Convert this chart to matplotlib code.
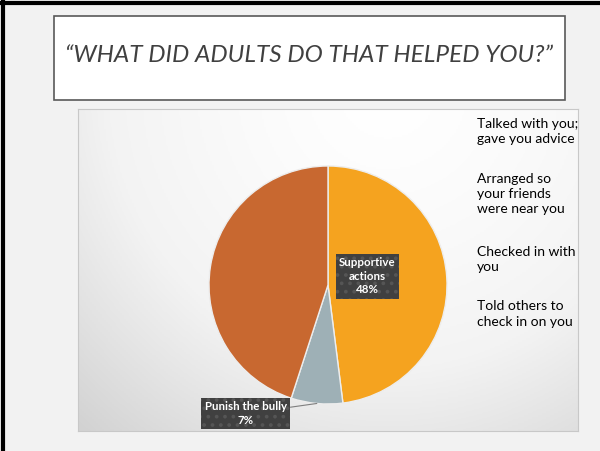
import numpy as np
import matplotlib
matplotlib.use("Agg")
import matplotlib.pyplot as plt
from matplotlib.lines import Line2D
from matplotlib.patches import Rectangle

# Data
TITLE = "\u201cWHAT DID ADULTS DO THAT HELPED YOU?\u201d"
SLICE_NAMES = ["Supportive actions", "Punish the bully", "Other"]
SLICE_SHARES = [48, 7, 45]
SLICE_COLORS = ["#F5A31F", "#9EB0B6", "#C86830"]
LABELED = [True, True, False]
LEGEND_LINES = [
    "Talked with you;\ngave you advice",
    "Arranged so\nyour friends\nwere near you",
    "Checked in with\nyou",
    "Told others to\ncheck in on you",
]

W, H = 600, 451
plt.rcParams["font.family"] = ["Lato", "DejaVu Sans"]

fig = plt.figure(figsize=(W / 100, H / 100), dpi=100)
fig.patch.set_facecolor("#F2F2F2")


def px_rect(x0, y0, x1, y1):
    # pixel box (top-left origin) -> figure fraction rect
    return [x0 / W, 1 - y1 / H, (x1 - x0) / W, (y1 - y0) / H]


# slide border on left and top
fig.add_artist(Line2D([2.5 / W, 2.5 / W], [0, 1], color="black", lw=3))
fig.add_artist(Line2D([0, 1], [1 - 2.5 / H, 1 - 2.5 / H], color="black", lw=3))

# title box
fig.add_artist(Rectangle((54 / W, 1 - 100 / H), 511 / W, 84 / H,
                         transform=fig.transFigure, facecolor="white",
                         edgecolor="#595959", lw=1.2))
fig.text(309 / W, 1 - 55 / H, TITLE, ha="center", va="center",
         fontsize=17.6, style="italic", color="#404040")

# chart area with radial gradient (light near top centre)
bg = fig.add_axes(px_rect(78, 109, 578, 431))
gx, gy = np.meshgrid(np.linspace(0, 500, 250), np.linspace(0, 322, 160))
dist = np.sqrt((gx - 310) ** 2 + (gy + 20) ** 2) / 460
grad = np.clip(dist, 0, 1) ** 1.4
bg.imshow(grad, cmap=matplotlib.colors.LinearSegmentedColormap.from_list(
    "g", ["#FFFFFF", "#F3F3F3", "#D2D2D2"]), origin="upper",
    extent=[0, 1, 0, 1], aspect="auto", vmin=0, vmax=1)
bg.set_xticks([])
bg.set_yticks([])
for s in bg.spines.values():
    s.set_color("#C8C8C8")

# pie
ax = fig.add_axes(px_rect(209, 166, 447, 404))
wedges, _ = ax.pie(SLICE_SHARES, colors=SLICE_COLORS, startangle=90,
                   counterclock=False, radius=1,
                   wedgeprops=dict(edgecolor="#EDEDED", linewidth=1))
ax.set_xlim(-1, 1)
ax.set_ylim(-1, 1)
ax.set_aspect("equal")
ax.axis("off")

plt.rcParams["hatch.linewidth"] = 1.5
box = dict(boxstyle="square,pad=0.3", facecolor="#404040",
           edgecolor="#555555", linewidth=0, hatch="..")
lbl_kw = dict(ha="center", va="center", color="white", fontsize=8.3,
              fontweight="bold", linespacing=1.3, bbox=box)

for w, name, share, show in zip(wedges, SLICE_NAMES, SLICE_SHARES, LABELED):
    if not show:
        continue
    mid = (w.theta1 + w.theta2) / 2
    if share > 20:
        a = np.deg2rad(mid + 9)
        name = name.replace(" ", "\n")
        ax.text(0.34 * np.cos(a), 0.34 * np.sin(a),
                f"{name}\n{share}%", **lbl_kw)
    else:
        a = np.deg2rad(mid)
        ax.annotate(f"{name}\n{share}%",
                    xy=(np.cos(a), np.sin(a)),
                    xytext=(-0.69, -1.08), annotation_clip=False,
                    arrowprops=dict(arrowstyle="-", color="#7F7F7F", lw=0.8,
                                    shrinkA=0, shrinkB=0),
                    **lbl_kw)

# legend (text only, no markers)
y = 118
for entry in LEGEND_LINES:
    fig.text(477 / W, 1 - y / H, entry, ha="left", va="top",
             fontsize=10, color="black", linespacing=1.32)
    y += entry.count("\n") * 17.5 + 17.5 + 20

fig.savefig("out.png", dpi=100)
